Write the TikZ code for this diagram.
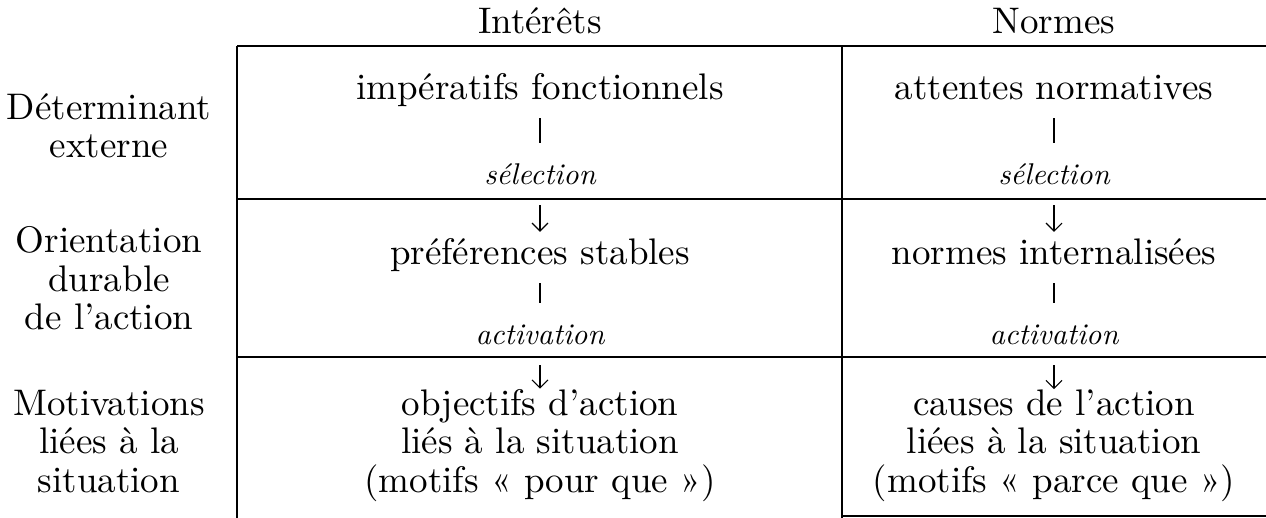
\documentclass[tikz,border=0pt]{standalone}
\usepackage{fontspec}
\setmainfont{lmroman10-regular.otf}[ItalicFont=lmroman10-italic.otf, BoldFont=lmroman10-bold.otf]
\usetikzlibrary{arrows.meta}
\begin{document}
\begin{tikzpicture}[x=1pt,y=-1pt,
  txt/.style={inner sep=0pt, anchor=base, align=center, font=\fontsize{37}{38.5}\selectfont},
  cell/.style={txt, text height=25pt, text depth=8pt},
  lab/.style={inner sep=0pt, anchor=base, text height=21pt, text depth=2pt, font=\fontsize{30}{33}\selectfont\itshape},
  rule/.style={line width=1.4pt},
  bar/.style={line width=1.1pt, shorten <=10pt, shorten >=21pt},
  arr/.style={line width=1.1pt, -{Straight Barb[length=8pt,width=16pt,line width=1.1pt]}, shorten <=18pt, shorten >=8pt},
]
\useasboundingbox (0,0) rectangle (1266,518);

% table rules
\draw[rule] (237,46) -- (1266,46);
\draw[rule] (237,199) -- (1266,199);
\draw[rule] (237,357) -- (1266,357);
\draw[rule] (842,516) -- (1266,516);
\draw[rule] (237,46) -- (237,518);
\draw[rule] (842,46) -- (842,518);

% column headers
\node[txt] (hI) at (540,34) {Intérêts};
\node[txt] (hN) at (1054,34) {Normes};

% row labels (base = last line)
\node[txt] (r1) at (109,158) {Déterminant\\externe};
\node[txt] (r2) at (109,330) {Orientation\\durable\\de l’action};
\node[txt] (r3) at (109,492) {Motivations\\liées à la\\situation};

% Intérêts column
\node[cell] (i1) at (540,100) {impératifs fonctionnels};
\node[lab]  (is) at (540,185) {sélection};
\node[cell] (i2) at (540,265) {préférences stables};
\node[lab]  (ia) at (540,345) {activation};
\node[txt]  (i3) at (540,492) {objectifs d’action\\liés à la situation\\(motifs « pour que »)};

% Normes column
\node[cell] (n1) at (1054,100) {attentes normatives};
\node[lab]  (ns) at (1054,185) {sélection};
\node[cell] (n2) at (1054,265) {normes internalisées};
\node[lab]  (na) at (1054,345) {activation};
\node[txt]  (n3) at (1054,492) {causes de l’action\\liées à la situation\\(motifs « parce que »)};

% connectors
\draw[bar] (i1) -- (is);
\draw[arr] (is) -- (i2);
\draw[bar] (i2) -- (ia);
\draw[arr, shorten >=0pt] (ia) -- (i3);
\draw[bar] (n1) -- (ns);
\draw[arr] (ns) -- (n2);
\draw[bar] (n2) -- (na);
\draw[arr, shorten >=0pt] (na) -- (n3);
\end{tikzpicture}
\end{document}
